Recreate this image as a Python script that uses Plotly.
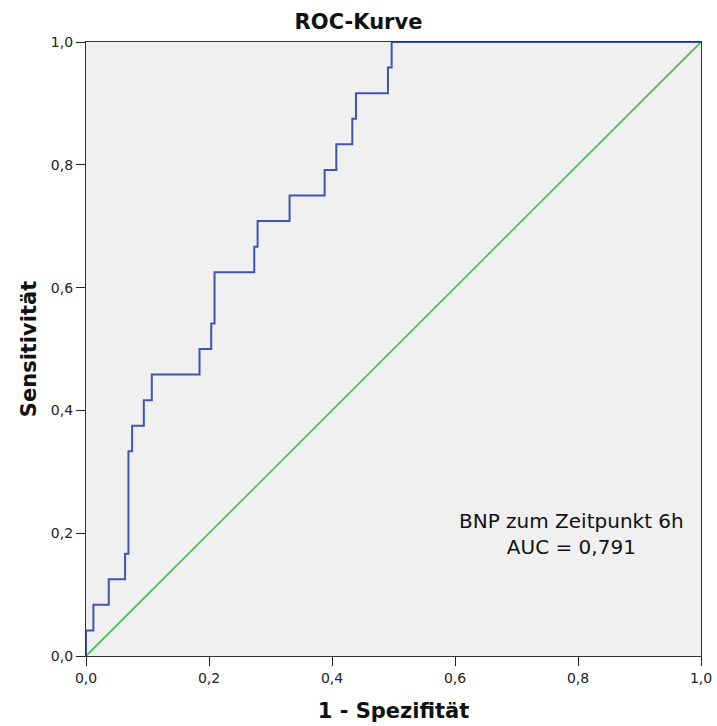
import plotly.graph_objects as go

# ROC curve data (1 - specificity, sensitivity) at each step
fpr = [0.0, 0.0, 0.012, 0.037, 0.0635, 0.069, 0.075, 0.094, 0.107, 0.1846, 0.2036,
       0.209, 0.2736, 0.279, 0.331, 0.388, 0.407, 0.433, 0.439, 0.491, 0.497, 1.0]
sens = [0.0, 1/24, 2/24, 3/24, 4/24, 8/24, 9/24, 10/24, 11/24, 12/24, 13/24,
        15/24, 16/24, 17/24, 18/24, 19/24, 20/24, 21/24, 22/24, 23/24, 24/24, 1.0]
ref_x = [0.0, 1.0]
ref_y = [0.0, 1.0]
tick_vals = [0.0, 0.2, 0.4, 0.6, 0.8, 1.0]
tick_text = ["0,0", "0,2", "0,4", "0,6", "0,8", "1,0"]
label_lines = ["BNP zum Zeitpunkt 6h", "AUC = 0,791"]

font = "DejaVu Sans"

fig = go.Figure()
fig.add_trace(go.Scatter(x=ref_x, y=ref_y, mode="lines",
                         line=dict(color="#3cc24b", width=1.6), hoverinfo="skip"))
fig.add_trace(go.Scatter(x=fpr, y=sens, mode="lines", line_shape="hv",
                         line=dict(color="#3f55b4", width=2), hoverinfo="skip"))

fig.add_annotation(x=0.79, y=0.198, xref="x", yref="y", showarrow=False,
                   text="<br>".join(label_lines), align="center",
                   font=dict(family=font, size=20, color="#111"))

axis_common = dict(range=[0, 1], tickvals=tick_vals, ticktext=tick_text,
                   ticks="outside", ticklen=9, tickwidth=1.2, tickcolor="#222",
                   showline=True, linecolor="#333", linewidth=1.2, mirror=True,
                   showgrid=False, zeroline=False, automargin=False,
                   ticklabeloverflow="allow",
                   tickfont=dict(family=font, size=14, color="#222"))

fig.update_xaxes(**axis_common,
                 title=dict(text="<b>1 - Spezifität</b>", standoff=18,
                            font=dict(family=font, size=21, color="#111")))
fig.update_yaxes(**axis_common,
                 title=dict(text="<b>Sensitivität</b>", standoff=8,
                            font=dict(family=font, size=21, color="#111")))

fig.update_layout(
    width=717, height=726,
    margin=dict(l=86, r=16, t=42, b=70),
    paper_bgcolor="white", plot_bgcolor="#f0f0f0",
    showlegend=False,
    title=dict(text="<b>ROC-Kurve</b>", x=0.5, xanchor="center", y=0.97, yanchor="middle",
               font=dict(family=font, size=21, color="#111")),
)

fig.write_html("out.html")
